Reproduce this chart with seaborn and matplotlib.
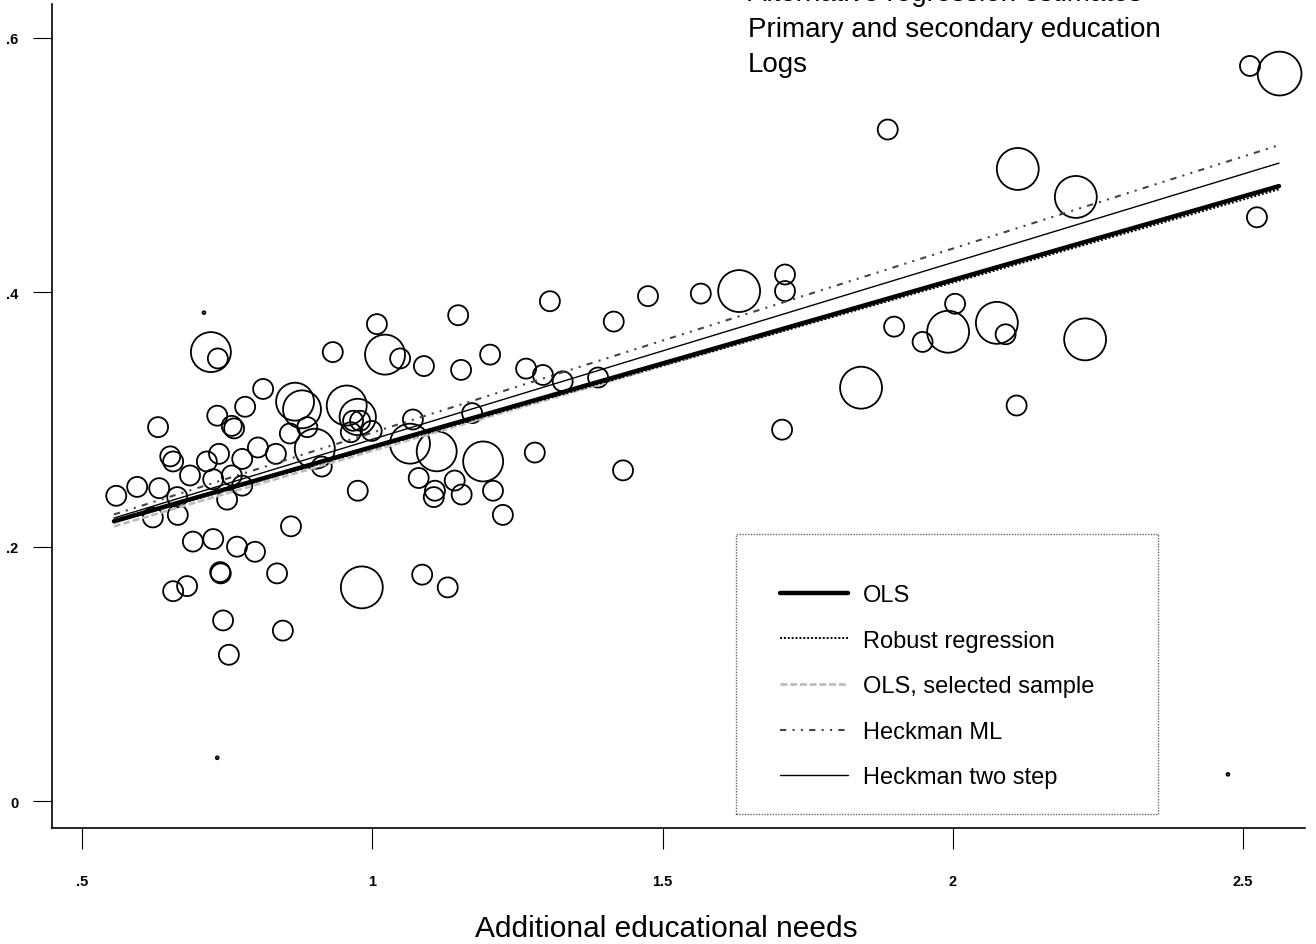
import numpy as np
import pandas as pd
import matplotlib
matplotlib.use("Agg")
import matplotlib.pyplot as plt
from matplotlib.patches import Rectangle
import seaborn as sns

# ---------------- data ----------------
need_x = [0.559, 0.595, 0.633, 0.664, 0.622, 0.665, 0.631, 0.652, 0.657, 0.686,
          0.715, 0.736, 0.726, 0.758, 0.750, 0.776, 0.803, 0.834, 0.776, 0.722,
          0.734, 0.733, 0.758, 0.762, 0.781, 0.812, 0.691, 0.726, 0.767, 0.798,
          0.738, 0.739, 0.836, 0.657, 0.681, 0.743, 0.846, 0.753, 0.860, 0.858,
          0.867, 0.879, 0.888, 0.901, 0.913, 0.932, 1.008, 1.022, 1.048, 1.089,
          1.148, 1.153, 1.203, 1.265, 0.956, 0.975, 0.967, 0.979, 0.963, 0.999,
          1.070, 1.065, 1.111, 1.172, 1.191, 1.280, 0.975, 1.080, 1.108, 1.106,
          1.142, 1.154, 1.208, 1.225, 0.982, 1.086, 1.130,
          1.306, 1.475, 1.416, 1.566, 1.632, 1.711, 1.711, 1.294, 1.328, 1.389,
          1.706, 1.432, 1.842,
          1.888, 2.112, 2.212, 2.524, 2.004, 1.992, 1.899, 1.948, 2.076, 2.091,
          2.228, 2.110, 2.512, 2.563,
          0.710, 0.733, 2.474]
cost_y = [0.240, 0.247, 0.246, 0.239, 0.223, 0.225, 0.294, 0.271, 0.267, 0.256,
          0.267, 0.273, 0.253, 0.256, 0.237, 0.269, 0.278, 0.273, 0.248, 0.353,
          0.348, 0.303, 0.295, 0.293, 0.310, 0.324, 0.204, 0.206, 0.200, 0.196,
          0.180, 0.179, 0.179, 0.165, 0.169, 0.142, 0.134, 0.115, 0.216, 0.289,
          0.314, 0.308, 0.294, 0.277, 0.263, 0.353, 0.375, 0.351, 0.348, 0.342,
          0.382, 0.339, 0.351, 0.340, 0.311, 0.302, 0.299, 0.299, 0.290, 0.291,
          0.300, 0.281, 0.275, 0.305, 0.267, 0.274, 0.244, 0.254, 0.244, 0.239,
          0.252, 0.241, 0.244, 0.225, 0.168, 0.178, 0.168,
          0.393, 0.397, 0.377, 0.399, 0.401, 0.414, 0.401, 0.335, 0.330, 0.333,
          0.292, 0.260, 0.325,
          0.528, 0.497, 0.475, 0.459, 0.391, 0.369, 0.373, 0.361, 0.376, 0.367,
          0.363, 0.311, 0.578, 0.572,
          0.384, 0.034, 0.021]
weight = [1, 1, 1, 1, 1, 1, 1, 1, 1, 1,
          1, 1, 1, 1, 1, 1, 1, 1, 1, 4.0,
          1, 1, 1, 1, 1, 1, 1, 1, 1, 1,
          1, 1, 1, 1, 1, 1, 1, 1, 1, 1,
          3.6, 3.6, 1, 4.0, 1, 1, 1, 4.0, 1, 1,
          1, 1, 1, 1, 4.0, 3.3, 1, 1, 1, 1,
          1, 4.0, 4.0, 1, 4.0, 1, 1, 1, 1, 1,
          1, 1, 1, 1, 4.4, 1, 1,
          1, 1, 1, 1, 4.4, 1, 1, 1, 1, 1,
          1, 1, 4.4,
          1, 4.4, 4.4, 1, 1, 4.4, 1, 1, 4.4, 1,
          4.4, 1, 1, 4.8,
          0.02, 0.02, 0.02]

line_x = [0.555, 2.562]
models = ["OLS", "Robust regression", "OLS, selected sample", "Heckman ML", "Heckman two step"]
ols_y = [0.220, 0.4835]
robust_y = [0.219, 0.481]
ols_sel_y = [0.216, 0.484]
heck_ml_y = [0.2253, 0.5157]
heck_2s_y = [0.2225, 0.5016]

title_lines = ["Alternative regression estimates", "Primary and secondary education", "Logs"]
x_label = "Additional educational needs"
x_ticks = [0.5, 1.0, 1.5, 2.0, 2.5]
x_ticklabels = [".5", "1", "1.5", "2", "2.5"]
y_ticks = [0.0, 0.2, 0.4, 0.6]
y_ticklabels = ["0", ".2", ".4", ".6"]

# ---------------- style ----------------
sns.set_theme(style="white")
plt.rcParams["font.family"] = ["Liberation Sans", "DejaVu Sans"]
plt.rcParams["text.color"] = "black"
plt.rcParams["axes.labelcolor"] = "black"
plt.rcParams["xtick.color"] = "black"
plt.rcParams["ytick.color"] = "black"

fig = plt.figure(figsize=(13.16, 9.45), dpi=100)
ax = fig.add_axes([52 / 1316, 1 - 829 / 945, (1305 - 52) / 1316, (829 - 5) / 945])

pts = pd.DataFrame({"x": need_x, "y": cost_y, "w": weight})
sns.scatterplot(data=pts, x="x", y="y", size="w", sizes=(0, 1035), size_norm=(0, 5),
                legend=False, ax=ax, marker="o", linewidth=1.3, zorder=3)
coll = ax.collections[0]
coll.set_facecolor("none")
coll.set_edgecolor("black")
coll.set_linewidth(1.3)

styles = {
    "OLS": dict(color="black", linewidth=3.2, linestyle="-"),
    "Robust regression": dict(color="black", linewidth=1.4, linestyle=(0, (1, 1))),
    "OLS, selected sample": dict(color="#bdbdbd", linewidth=2.0, linestyle=(0, (2.5, 1))),
    "Heckman ML": dict(color="#444444", linewidth=1.5, linestyle=(0, (3, 3, 1, 3, 1, 3))),
    "Heckman two step": dict(color="black", linewidth=1.0, linestyle="-"),
}
series = {"OLS": ols_y, "Robust regression": robust_y, "OLS, selected sample": ols_sel_y,
          "Heckman ML": heck_ml_y, "Heckman two step": heck_2s_y}
order_draw = ["OLS, selected sample", "Heckman ML", "Heckman two step", "OLS", "Robust regression"]
handles = {}
for m in order_draw:
    sns.lineplot(x=line_x, y=series[m], ax=ax, label=m, zorder=4, **styles[m])
    handles[m] = ax.lines[-1]

ax.set_xlim(0.4483, 2.6068)
ax.set_ylim(-0.0212, 0.6267)
ax.set_xticks(x_ticks)
ax.set_xticklabels(x_ticklabels)
ax.set_yticks(y_ticks)
ax.set_yticklabels(y_ticklabels)
ax.tick_params(axis="x", direction="out", length=15, width=0.8, pad=18, labelsize=10.5,
               colors="black", bottom=True)
ax.tick_params(axis="y", direction="out", length=14, width=0.8, pad=10, labelsize=10.5,
               colors="black", left=True)
for lab in ax.get_xticklabels() + ax.get_yticklabels():
    lab.set_fontweight("bold")
sns.despine(ax=ax, top=True, right=True)
ax.spines["left"].set_color("black")
ax.spines["bottom"].set_color("black")
ax.spines["left"].set_linewidth(1.2)
ax.spines["bottom"].set_linewidth(1.2)

ax.set_xlabel("")
ax.set_ylabel("")
fig.text(666 / 1316, 1 - 929 / 945, x_label, fontsize=21.5, ha="center", va="center",
         color="black")

# title block (top line partly cut by the page edge, as in the source)
fig.text(748 / 1316, 1 - 1 / 945, title_lines[0], fontsize=20, ha="left", va="baseline",
         color="black")
fig.text(748 / 1316, 1 - 37 / 945, title_lines[1], fontsize=20, ha="left", va="baseline",
         color="black")
fig.text(748 / 1316, 1 - 72 / 945, title_lines[2], fontsize=20, ha="left", va="baseline",
         color="black")

# legend with dotted frame
x0 = (736 - 52) / 1253
y0 = (829 - 815) / 824
w = (1158 - 736) / 1253
h = (815 - 535) / 824
ax.add_patch(Rectangle((x0, y0), w, h, transform=ax.transAxes, fill=True, facecolor="white",
                       edgecolor="#666666", linewidth=1.0, linestyle=(0, (1, 1)), zorder=5))
leg = ax.legend([handles[m] for m in models], models, loc="upper left",
                bbox_to_anchor=((780 - 52) / 1253, (829 - 585) / 824),
                frameon=False, fontsize=17, handlelength=2.9, handletextpad=0.6,
                labelspacing=1.0, borderpad=0, borderaxespad=0, labelcolor="black")
leg.set_zorder(6)

fig.savefig("out.png", dpi=100)
